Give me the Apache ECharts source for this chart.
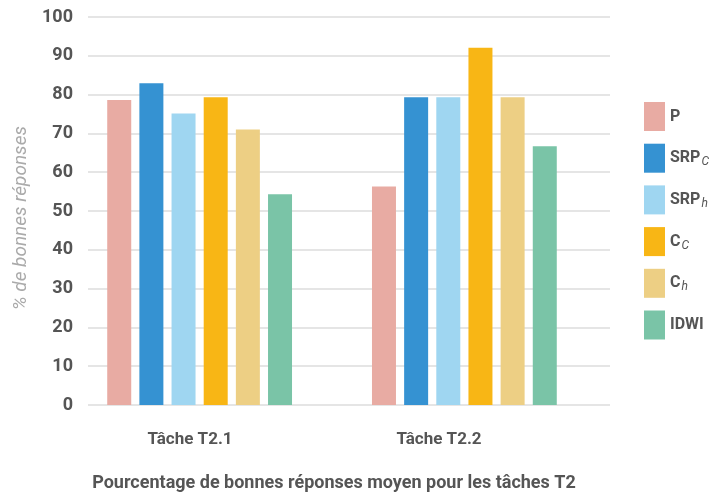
<!DOCTYPE html>
<html><head><meta charset="utf-8">
<script src="https://cdn.jsdelivr.net/npm/echarts@6/dist/echarts.min.js"></script>
<style>html,body{margin:0;padding:0;background:#fff}#c{width:710px;height:494px}</style>
</head><body><div id="c"></div>
<script>
const categories = ['Tâche T2.1', 'Tâche T2.2'];
const seriesNames = ['P', 'SRPc', 'SRPh', 'Cc', 'Ch', 'IDWI'];
const valP = [78.6, 56.3];
const valSRPc = [82.9, 79.3];
const valSRPh = [75.1, 79.3];
const valCc = [79.3, 92.1];
const valCh = [71.0, 79.3];
const valIDWI = [54.3, 66.7];
const yTicks = [0, 10, 20, 30, 40, 50, 60, 70, 80, 90, 100];
const colors = ['#E8ABA3', '#3592D2', '#9FD6F1', '#F8B615', '#EDCF84', '#7AC4A7'];
const legendLabels = {P:'{b|P}', SRPc:'{b|SRP}{s|C}', SRPh:'{b|SRP}{s|h}', Cc:'{b|C}{s|C}', Ch:'{b|C}{s|h}', IDWI:'{b|IDWI}'};
const values = [valP, valSRPc, valSRPh, valCc, valCh, valIDWI];

const chart = echarts.init(document.getElementById('c'), null, {renderer:'canvas'});
const FONT = 'Roboto';
chart.setOption({
  animation: false,
  color: colors,
  title: {
    text: 'Pourcentage de bonnes réponses moyen pour les tâches T2',
    left: 329, top: 469, textAlign: 'center',
    textStyle: {fontFamily: FONT, fontWeight: 'bold', fontSize: 18, color: '#555'}
  },
  legend: {
    orient: 'vertical', left: 639, top: 97,
    itemWidth: 21, itemHeight: 29, itemGap: 12.7, icon: 'rect',
    data: seriesNames,
    formatter: n => legendLabels[n],
    textStyle: {
      fontFamily: FONT, color: '#555',
      rich: {
        b: {fontFamily: FONT, fontWeight: 'bold', fontSize: 16, color: '#555'},
        s: {fontFamily: FONT, fontStyle: 'italic', fontSize: 12, color: '#555', padding: [8, 0, 0, 1]}
      }
    }
  },
  grid: [
    {left: 88, right: 100, top: 17, bottom: 89},
    {left: 67.25, right: 113.25, top: 17, bottom: 89},
    {left: 65.5, right: 146.5, top: 17, bottom: 89}
  ],
  xAxis: [
    {gridIndex: 0, type: 'category', data: categories, axisLine: {show: false}, axisTick: {show: false}, axisLabel: {show: false}},
    {gridIndex: 1, type: 'category', data: categories, axisLine: {show: false}, axisTick: {show: false}, axisLabel: {show: false}},
    {gridIndex: 2, type: 'category', data: categories, axisLine: {show: false}, axisTick: {show: false},
     axisLabel: {margin: 26, fontFamily: FONT, fontWeight: 'bold', fontSize: 17, color: '#555'}}
  ],
  yAxis: [
    {gridIndex: 0, type: 'value', min: 0, max: 100, interval: 10,
     axisLabel: {margin: 15, fontFamily: FONT, fontWeight: 'bold', fontSize: 18, color: '#555',
       formatter: v => yTicks.includes(v) ? String(v) : ''},
     splitLine: {lineStyle: {color: '#dddddd', width: 1.5}},
     axisLine: {show: false}, axisTick: {show: false},
     name: '% de bonnes réponses', nameLocation: 'middle', nameGap: 57, nameRotate: 90,
     nameTextStyle: {fontFamily: FONT, fontStyle: 'italic', fontSize: 19, color: '#aaaaaa', padding: [0, 14, 0, 0]}},
    {gridIndex: 1, type: 'value', min: 0, max: 100, show: false},
    {gridIndex: 2, type: 'value', min: 0, max: 100, show: false}
  ],
  series: seriesNames.map((n, i) => ({
    name: n, type: 'bar', xAxisIndex: 1, yAxisIndex: 1,
    data: values[i], barWidth: 24, barGap: '34%'
  }))
});
</script></body></html>
